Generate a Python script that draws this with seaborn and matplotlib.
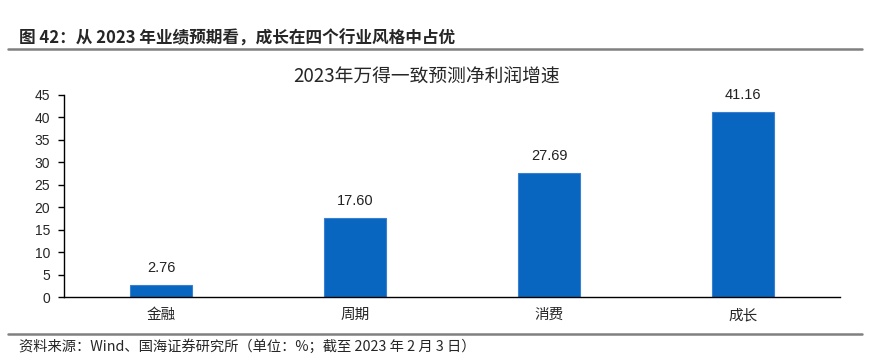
import matplotlib
matplotlib.use('Agg')
import matplotlib.pyplot as plt
import seaborn as sns
import pandas as pd
from matplotlib.lines import Line2D

# Data
categories = ['金融', '周期', '消费', '成长']
growth = [2.76, 17.60, 27.69, 41.16]
y_ticks = [0, 5, 10, 15, 20, 25, 30, 35, 40, 45]

df = pd.DataFrame({'cat': categories, 'val': growth})

sns.set_style('white')
plt.rcParams['font.family'] = ['Noto Sans CJK SC', 'DejaVu Sans']

fig = plt.figure(figsize=(8.7, 3.61), dpi=100)
ax = fig.add_axes([0.0736, 0.177, 0.892, 0.560])

sns.barplot(data=df, x='cat', y='val', color='#0866C0', width=0.32,
            edgecolor='#3A7FD0', linewidth=0.8, saturation=1, ax=ax)

for i, v in enumerate(growth):
    ax.text(i, v + 2.2, f'{v:.2f}', ha='center', va='bottom', fontsize=10.5,
            family=['Liberation Sans', 'DejaVu Sans'], color='#222222')

ax.set_xlim(-0.5, 3.5)
ax.set_ylim(0, 45)
ax.set_yticks(y_ticks)
ax.set_yticklabels([str(t) for t in y_ticks], family=['Liberation Sans'], fontsize=10)
ax.set_xticks(range(4))
ax.set_xticklabels(categories, fontsize=10.5)
ax.set_xticks([0.5, 1.5, 2.5, 3.5], minor=True)
ax.tick_params(axis='x', which='major', length=0, pad=8)
ax.tick_params(axis='x', which='minor', length=4, width=1, direction='out', color='black')
ax.tick_params(axis='y', length=4, width=1, direction='out', color='black', left=True, pad=6)
ax.set_xlabel('')
ax.set_ylabel('')
for s in ['top', 'right']:
    ax.spines[s].set_visible(False)
for s in ['left', 'bottom']:
    ax.spines[s].set_color('black')
    ax.spines[s].set_linewidth(1)

fig.text(0.49, 0.787, '2023年万得一致预测净利润增速', ha='center', va='center', fontsize=13.5)

# header and footer
fig.text(0.022, 0.893, '图 42：从 2023 年业绩预期看，成长在四个行业风格中占优', ha='left', va='center',
         fontsize=12, fontweight='bold')
fig.add_artist(Line2D([0.009, 0.991], [0.864, 0.864], color='#808080', linewidth=1.8))
fig.add_artist(Line2D([0.009, 0.991], [0.075, 0.075], color='#808080', linewidth=1.8))
fig.text(0.022, 0.039, '资料来源：Wind、国海证券研究所（单位：%；截至 2023 年 2 月 3 日）', ha='left',
         va='center', fontsize=10.3)

fig.savefig('out.png', dpi=100)
